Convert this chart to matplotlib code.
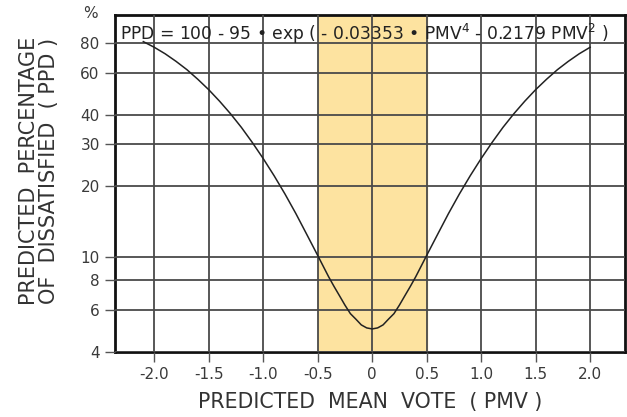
import matplotlib.pyplot as plt
import numpy as np

plt.rcParams['font.family'] = ['DejaVu Sans']

# PMV / PPD
pmv = [-2.1, -2.0, -1.9, -1.8, -1.7, -1.6, -1.5, -1.4, -1.3, -1.2, -1.1,
       -1.0, -0.9, -0.8, -0.7, -0.6, -0.5, -0.45, -0.4, -0.35, -0.3, -0.25,
       -0.2, -0.15, -0.1, -0.05, 0.0,
       0.05, 0.1, 0.15, 0.2, 0.25, 0.3, 0.35, 0.4, 0.45, 0.5,
       0.6, 0.7, 0.8, 0.9, 1.0,
       1.1, 1.2, 1.3, 1.4, 1.5, 1.6, 1.7, 1.8, 1.9, 2.0]
ppd = [81.1, 76.8, 72.1, 67.0, 61.8, 56.3, 50.9, 45.5, 40.3, 35.3, 30.5,
       26.1, 22.1, 18.5, 15.3, 12.5, 10.2, 9.2, 8.3, 7.55, 6.9, 6.3,
       5.8, 5.5, 5.2, 5.05, 5.0,
       5.05, 5.2, 5.5, 5.8, 6.3, 6.9, 7.55, 8.3, 9.2, 10.2,
       12.5, 15.3, 18.5, 22.1, 26.1,
       30.5, 35.3, 40.3, 45.5, 50.9, 56.3, 61.8, 67.0, 72.1, 76.8]

x_ticks = [-2.0, -1.5, -1.0, -0.5, 0, 0.5, 1.0, 1.5, 2.0]
x_labels = ['-2.0', '-1.5', '-1.0', '-0.5', '0', '0.5', '1.0', '1.5', '2.0']
y_ticks = [4, 6, 8, 10, 20, 30, 40, 60, 80]
comfort_zone = (-0.5, 0.5)

fig = plt.figure(figsize=(6.27, 4.17), dpi=100)
ax = fig.add_axes([0.1834, 0.156, 0.8134, 0.808])

ax.axvspan(comfort_zone[0], comfort_zone[1], color='#fde3a0', zorder=0)
ax.plot(pmv, ppd, color='#222222', lw=1.1, zorder=3)

ax.set_yscale('log')
ax.set_xlim(-2.36, 2.32)
ax.set_ylim(4, 105)

ax.set_xticks(x_ticks)
ax.set_xticklabels(x_labels)
ax.set_yticks(y_ticks)
ax.set_yticklabels([str(v) for v in y_ticks])
ax.yaxis.set_minor_locator(plt.NullLocator())
ax.tick_params(axis='both', colors='#555555', labelcolor='#3a3a3a',
               labelsize=11, length=7, width=1.0, direction='out')
ax.tick_params(axis='y', pad=4)
ax.tick_params(axis='x', pad=4)

ax.grid(True, color='#4a4a4a', lw=1.3, zorder=1)
ax.set_axisbelow(False)
for s in ax.spines.values():
    s.set_linewidth(2.0)
    s.set_color('#111111')

ax.text(-2.31, 87, 'PPD = 100 - 95 \u2022 exp ( - 0.03353 \u2022 PMV$^4$ - 0.2179 PMV$^2$ )',
        fontsize=12.3, color='#222222', va='center', ha='left', zorder=4)

fig.text(90 / 627, 1 - 13 / 417, '%', fontsize=11, color='#3a3a3a',
         ha='center', va='center')

fig.text(370 / 627, 1 - 402 / 417, 'PREDICTED  MEAN  VOTE  ( PMV )',
         fontsize=14.8, color='#333333', ha='center', va='center')
fig.text(39 / 627, 1 - 171 / 417,
         'PREDICTED  PERCENTAGE\nOF  DISSATISFIED  ( PPD )', fontsize=15,
         color='#333333', ha='center', va='center', rotation=90,
         multialignment='center', linespacing=0.95)

fig.savefig('out.png', dpi=100)
